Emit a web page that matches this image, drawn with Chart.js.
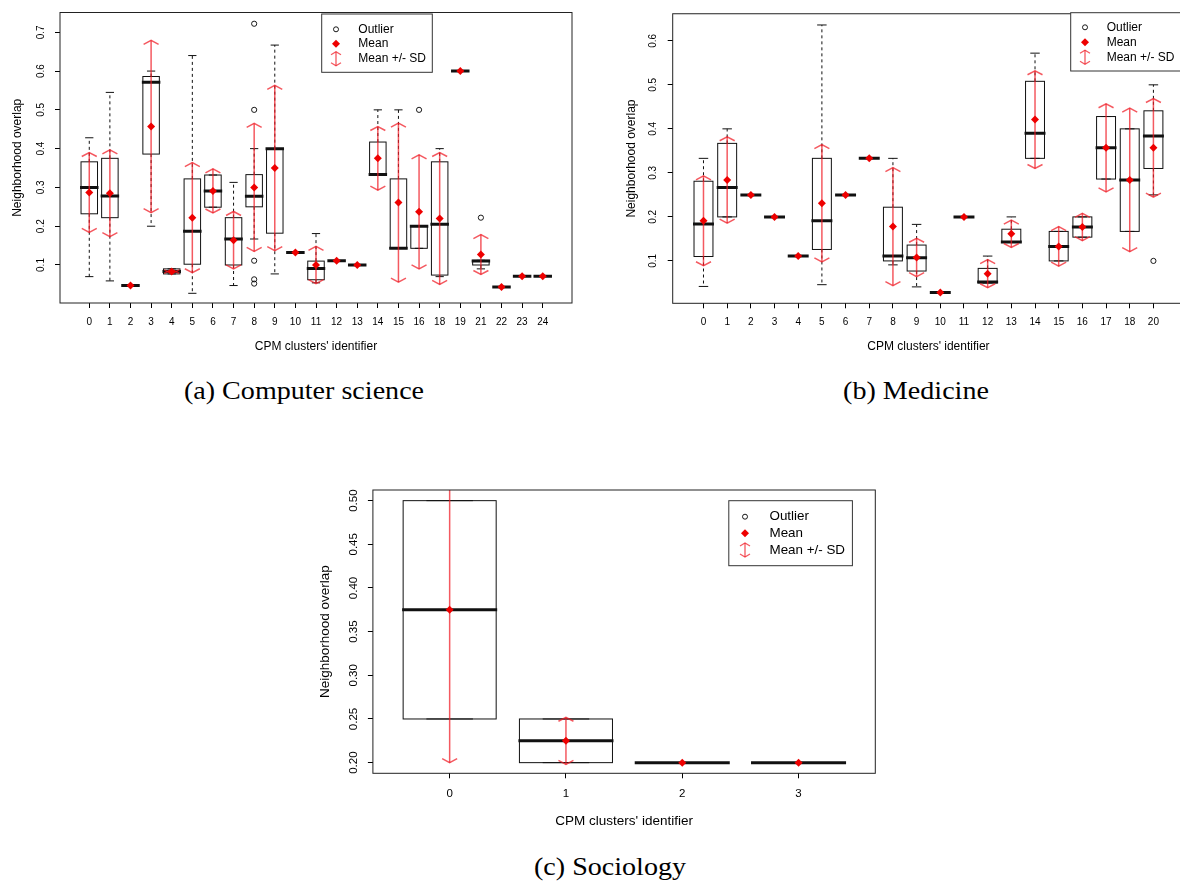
<!DOCTYPE html>
<html><head><meta charset="utf-8">
<script src="https://cdn.jsdelivr.net/npm/chart.js@4.4.1/dist/chart.umd.min.js"></script>
<style>
html,body{margin:0;padding:0;background:#fff;}
body{width:1180px;height:885px;overflow:hidden;position:relative;}
canvas{position:absolute;}
.cap{position:absolute;font-family:'Liberation Serif',serif;font-size:26px;color:#000;white-space:nowrap;transform:translate(-50%,-50%) scaleX(1.08);}
</style></head><body>
<canvas id="ca" width="600" height="365" style="left:0px;top:0px"></canvas>
<canvas id="cb" width="600" height="365" style="left:600px;top:0px"></canvas>
<canvas id="cc" width="600" height="365" style="left:300px;top:470px"></canvas>
<div class="cap" style="left:304px;top:391px">(a) Computer science</div>
<div class="cap" style="left:916px;top:391px">(b) Medicine</div>
<div class="cap" style="left:610px;top:867px">(c) Sociology</div>
<script>
// ---------- DATA ----------
const xTitle = "CPM clusters' identifier";
const yTitle = "Neighborhood overlap";
const legendLabels = ["Outlier", "Mean", "Mean +/- SD"];

// (a) Computer science
const catsA = ['0','1','2','3','4','5','6','7','8','9','10','11','12','13','14','15','16','18','19','21','22','23','24'];
const wloA  = [0.070,0.059,0.047,0.200,0.077,0.027,0.249,0.047,0.167,0.077,0.132,0.054,0.111,0.100,0.333,0.143,0.143,0.070,0.600,0.090,0.043,0.071,0.071];
const q1A   = [0.232,0.222,0.047,0.386,0.077,0.102,0.249,0.100,0.250,0.182,0.132,0.062,0.111,0.100,0.333,0.143,0.143,0.074,0.600,0.100,0.043,0.071,0.071];
const medA  = [0.300,0.278,0.047,0.571,0.083,0.187,0.291,0.167,0.277,0.400,0.132,0.091,0.111,0.100,0.333,0.143,0.200,0.205,0.600,0.110,0.043,0.071,0.071];
const q3A   = [0.366,0.375,0.047,0.586,0.090,0.322,0.332,0.222,0.333,0.400,0.132,0.110,0.111,0.100,0.417,0.322,0.200,0.366,0.600,0.112,0.043,0.071,0.071];
const whiA  = [0.428,0.545,0.047,0.600,0.090,0.640,0.332,0.313,0.400,0.667,0.132,0.181,0.111,0.100,0.500,0.500,0.200,0.400,0.600,0.112,0.043,0.071,0.071];
const meanA = [0.287,0.285,0.047,0.457,0.083,0.222,0.291,0.164,0.300,0.350,0.132,0.100,0.111,0.100,0.375,0.261,0.237,0.220,0.600,0.127,0.043,0.071,0.071];
const sdA   = [0.103,0.112,0,0.222,0.006,0.142,0.057,0.074,0.165,0.213,0,0.048,0,0,0.082,0.205,0.147,0.170,0,0.0515,0,0,0];
const outCatA = ['8','8','8','8','8','16','21'];
const outValA = [0.722,0.500,0.111,0.063,0.052,0.500,0.222];
const yTicksA = [0.1,0.2,0.3,0.4,0.5,0.6,0.7];
const yTickLabelsA = ['0.1','0.2','0.3','0.4','0.5','0.6','0.7'];

// (b) Medicine
const catsB = ['0','1','2','3','4','5','6','7','8','9','10','11','12','13','14','15','16','17','18','20'];
const wloB  = [0.042,0.200,0.250,0.200,0.111,0.046,0.250,0.333,0.091,0.041,0.028,0.200,0.050,0.143,0.333,0.100,0.154,0.286,0.167,0.250];
const q1B   = [0.110,0.200,0.250,0.200,0.111,0.126,0.250,0.333,0.100,0.077,0.028,0.200,0.050,0.143,0.333,0.100,0.154,0.286,0.167,0.310];
const medB  = [0.184,0.267,0.250,0.200,0.111,0.191,0.250,0.333,0.111,0.107,0.028,0.200,0.052,0.143,0.390,0.133,0.177,0.357,0.284,0.384];
const q3B   = [0.281,0.367,0.250,0.200,0.111,0.333,0.250,0.333,0.222,0.136,0.028,0.200,0.083,0.172,0.508,0.167,0.200,0.428,0.400,0.441];
const whiB  = [0.333,0.400,0.250,0.200,0.111,0.636,0.250,0.333,0.333,0.183,0.028,0.200,0.111,0.200,0.572,0.167,0.200,0.428,0.400,0.500];
const meanB = [0.191,0.284,0.250,0.200,0.111,0.231,0.250,0.333,0.178,0.108,0.028,0.200,0.071,0.1615,0.421,0.133,0.177,0.357,0.284,0.357];
const sdB   = [0.102,0.098,0,0,0,0.133,0,0,0.134,0.0435,0,0,0.032,0.031,0.111,0.045,0.031,0.100,0.163,0.112];
const outCatB = ['20'];
const outValB = [0.100];
const yTicksB = [0.1,0.2,0.3,0.4,0.5,0.6];
const yTickLabelsB = ['0.1','0.2','0.3','0.4','0.5','0.6'];

// (c) Sociology
const catsC = ['0','1','2','3'];
const wloC  = [0.25,0.20,0.20,0.20];
const q1C   = [0.25,0.20,0.20,0.20];
const medC  = [0.375,0.225,0.20,0.20];
const q3C   = [0.50,0.25,0.20,0.20];
const whiC  = [0.50,0.25,0.20,0.20];
const meanC = [0.375,0.225,0.20,0.20];
const sdC   = [0.175,0.027,0,0];
const outCatC = [];
const outValC = [];
const yTicksC = [0.20,0.25,0.30,0.35,0.40,0.45,0.50];
const yTickLabelsC = ['0.20','0.25','0.30','0.35','0.40','0.45','0.50'];

// ---------- STYLE / LAYOUT ----------
const meanColor = '#ee0000';
const sdColor = 'rgba(240,25,35,0.72)';
const LA = {cw:600, ch:365, left:60, top:7, right:572, bottom:303, xpad:8.5, ypad:6.5, tickFs:10, titleFs:12, yTitleX:17.5, xTitleY:346.7,
  legend:{x:321.7,y:14,w:110.6,h:58.3,sx:336,tx:358.3,rows:[29.3,43.7,58.7],fs:12}};
const LB = {cw:600, ch:365, left:72.7, top:7.3, right:584.2, bottom:303.3, xpad:8.4, ypad:7.75, tickFs:10, titleFs:12, yTitleX:31.3, xTitleY:346.7,
  legend:{x:470.7,y:12.7,w:110.6,h:58.3,sx:485,tx:506.7,rows:[27.3,42.3,57.3],fs:12}};
const LC = {cw:600, ch:365, left:72.9, top:20, right:575.3, bottom:303.3, xpad:9, ypad:3.2, tickFs:11.5, titleFs:13.5, yTitleX:24.8, xTitleY:351.7,
  legend:{x:428.8,y:30.7,w:123.6,h:65,sx:445,tx:469.5,rows:[46.7,63.3,80],fs:13.4}};

function seg(ctx,x1,y1,x2,y2){ctx.beginPath();ctx.moveTo(x1,y1);ctx.lineTo(x2,y2);ctx.stroke();}
function sdArrow(ctx,x,yt,yb,hw,hd){
  seg(ctx,x,yt,x,yb);
  ctx.beginPath();ctx.moveTo(x-hw,yt+hd);ctx.lineTo(x,yt);ctx.lineTo(x+hw,yt+hd);ctx.stroke();
  ctx.beginPath();ctx.moveTo(x-hw,yb-hd);ctx.lineTo(x,yb);ctx.lineTo(x+hw,yb-hd);ctx.stroke();
}

function makeBoxPlugin(P){
  return {
    id:'rbox'+P.key,
    beforeDatasetsDraw(chart){
      const {ctx, chartArea:ca, scales:{x,y}} = chart;
      const bw = 0.8*(x.getPixelForValue(2)-x.getPixelForValue(1));
      const py = v => y.getPixelForValue(v);
      ctx.save();
      ctx.beginPath(); ctx.rect(ca.left, ca.top, ca.right-ca.left, ca.bottom-ca.top); ctx.clip();
      ctx.strokeStyle = '#111';
      P.cats.forEach((c,i)=>{
        const cx = x.getPixelForValue(i+1);
        const yl=py(P.wlo[i]), y1=py(P.q1[i]), ym=py(P.med[i]), y3=py(P.q3[i]), yh=py(P.whi[i]);
        ctx.lineWidth = 1; ctx.lineCap='butt';
        ctx.setLineDash([3,3]);
        if (yh < y3 - 0.5) seg(ctx,cx,y3,cx,yh);
        if (yl > y1 + 0.5) seg(ctx,cx,y1,cx,yl);
        ctx.setLineDash([]);
        seg(ctx,cx-bw/4,yh,cx+bw/4,yh);
        seg(ctx,cx-bw/4,yl,cx+bw/4,yl);
        if (y1 - y3 > 0.5) ctx.strokeRect(cx-bw/2, y3, bw, y1-y3);
        ctx.lineWidth = 3;
        seg(ctx,cx-bw/2-1,ym,cx+bw/2+1,ym);
      });
      ctx.strokeStyle = sdColor; ctx.lineWidth = 1.5; ctx.lineJoin='miter';
      P.cats.forEach((c,i)=>{
        if (P.sd[i] <= 0) return;
        const cx = x.getPixelForValue(i+1);
        sdArrow(ctx, cx, py(P.mean[i]+P.sd[i]), py(P.mean[i]-P.sd[i]), 7.5, 4);
      });
      ctx.restore();
    },
    afterDraw(chart){
      const {ctx, chartArea:ca} = chart;
      const L = P.L;
      ctx.save();
      ctx.strokeStyle = '#222'; ctx.lineWidth = 1;
      ctx.strokeRect(ca.left, ca.top, ca.right-ca.left, ca.bottom-ca.top);
      ctx.fillStyle = '#000';
      ctx.font = L.titleFs + 'px "Liberation Sans"';
      ctx.textAlign = 'center'; ctx.textBaseline = 'middle';
      ctx.fillText(xTitle, (ca.left+ca.right)/2, L.xTitleY);
      ctx.save();
      ctx.translate(L.yTitleX, (ca.top+ca.bottom)/2);
      ctx.rotate(-Math.PI/2);
      ctx.fillText(yTitle, 0, 0);
      ctx.restore();
      // legend
      const G = L.legend;
      ctx.strokeStyle = '#333'; ctx.lineWidth = 1;
      ctx.fillStyle = '#fff';
      ctx.fillRect(G.x, G.y, G.w, G.h);
      ctx.strokeRect(G.x, G.y, G.w, G.h);
      ctx.strokeStyle = '#000'; ctx.lineWidth = 0.9;
      ctx.beginPath(); ctx.arc(G.sx, G.rows[0], 2.5, 0, Math.PI*2); ctx.stroke();
      ctx.fillStyle = meanColor;
      ctx.beginPath(); ctx.moveTo(G.sx-4,G.rows[1]); ctx.lineTo(G.sx,G.rows[1]-4); ctx.lineTo(G.sx+4,G.rows[1]); ctx.lineTo(G.sx,G.rows[1]+4); ctx.closePath(); ctx.fill();
      ctx.strokeStyle = sdColor; ctx.lineWidth = 1.3;
      sdArrow(ctx, G.sx, G.rows[2]-7, G.rows[2]+7, 5, 3);
      ctx.fillStyle = '#000';
      ctx.font = G.fs + 'px "Liberation Sans"';
      ctx.textAlign = 'left'; ctx.textBaseline = 'middle';
      legendLabels.forEach((t,k)=>ctx.fillText(t, G.tx, G.rows[k]));
      ctx.restore();
    }
  };
}

function makeChart(id, P){
  const n = P.cats.length;
  const ext = 0.04*n;
  const L = P.L;
  const meanPts = P.cats.map((c,i)=>({x:i+1, y:P.mean[i]}));
  const outPts = P.outCat.map((c,k)=>({x:P.cats.indexOf(c)+1, y:P.outVal[k]}));
  const tickFont = {family:'Liberation Sans', size:L.tickFs};
  return new Chart(document.getElementById(id), {
    type:'scatter',
    data:{datasets:[
      {label:'Mean', data:meanPts, pointStyle:'rectRot', pointRadius:4, backgroundColor:meanColor, borderColor:meanColor, borderWidth:0},
      {label:'Outlier', data:outPts, pointStyle:'circle', pointRadius:2.6, borderColor:'#000', borderWidth:0.9, backgroundColor:'rgba(0,0,0,0)'}
    ]},
    options:{
      responsive:false, animation:false, events:[], devicePixelRatio:1,
      layout:{padding:{left:0, top:L.top, right:L.cw-L.right, bottom:0}},
      plugins:{legend:{display:false}, tooltip:{enabled:false}},
      scales:{
        x:{type:'linear', min:0.5-ext, max:n+0.5+ext,
          afterBuildTicks: s => { s.ticks = P.cats.map((c,i)=>({value:i+1})); },
          afterFit: s => { s.height = L.ch - L.bottom; },
          ticks:{autoSkip:false, maxRotation:0, minRotation:0, padding:L.xpad, color:'#000', font:tickFont, callback:(v,i)=>P.cats[i]},
          grid:{drawOnChartArea:false, drawTicks:true, tickLength:5, tickColor:'#000', tickWidth:1},
          border:{display:false}},
        y:{type:'linear', min:P.ymin, max:P.ymax,
          afterBuildTicks: s => { s.ticks = P.yTicks.map(v=>({value:v})); },
          afterFit: s => { s.width = L.left; },
          ticks:{autoSkip:false, minRotation:90, maxRotation:90, crossAlign:'center', padding:L.ypad, color:'#000', font:tickFont, callback:(v,i)=>P.yTickLabels[i]},
          grid:{drawOnChartArea:false, drawTicks:true, tickLength:5, tickColor:'#000', tickWidth:1},
          border:{display:false}}
      }
    },
    plugins:[makeBoxPlugin(P)]
  });
}

makeChart('ca', {key:'a', cats:catsA, wlo:wloA, q1:q1A, med:medA, q3:q3A, whi:whiA, mean:meanA, sd:sdA, outCat:outCatA, outVal:outValA,
  yTicks:yTicksA, yTickLabels:yTickLabelsA, ymin:0.002, ymax:0.751, L:LA});
makeChart('cb', {key:'b', cats:catsB, wlo:wloB, q1:q1B, med:medB, q3:q3B, whi:whiB, mean:meanB, sd:sdB, outCat:outCatB, outVal:outValB,
  yTicks:yTicksB, yTickLabels:yTickLabelsB, ymin:0.0037, ymax:0.6615, L:LB});
makeChart('cc', {key:'c', cats:catsC, wlo:wloC, q1:q1C, med:medC, q3:q3C, whi:whiC, mean:meanC, sd:sdC, outCat:outCatC, outVal:outValC,
  yTicks:yTicksC, yTickLabels:yTickLabelsC, ymin:0.1878, ymax:0.5122, L:LC});
</script>
</body></html>
